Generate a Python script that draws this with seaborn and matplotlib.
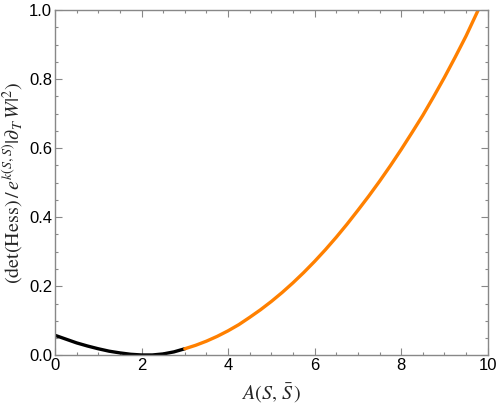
import matplotlib
matplotlib.use("Agg")
import matplotlib.pyplot as plt
import seaborn as sns
import pandas as pd
from matplotlib.ticker import MultipleLocator, FuncFormatter

# Data
black_x = [0.0, 0.25, 0.5, 0.75, 1.0, 1.25, 1.5, 1.75, 2.0, 2.25, 2.5, 2.75, 3.0]
black_y = [0.058, 0.047, 0.036, 0.027, 0.019, 0.012, 0.007, 0.003, 0.001, 0.001, 0.004, 0.010, 0.019]
orange_x = [3.0, 3.25, 3.5, 3.75, 4.0, 4.25, 4.5, 4.75, 5.0, 5.25, 5.5, 5.75, 6.0, 6.25,
            6.5, 6.75, 7.0, 7.25, 7.5, 7.75, 8.0, 8.25, 8.5, 8.75, 9.0, 9.25, 9.5, 9.78]
orange_y = [0.019, 0.029, 0.041, 0.055, 0.071, 0.089, 0.110, 0.132, 0.156, 0.182, 0.210, 0.240,
            0.272, 0.306, 0.342, 0.380, 0.420, 0.461, 0.504, 0.549, 0.596, 0.645, 0.695, 0.749,
            0.805, 0.864, 0.925, 1.0]

sns.set_theme(style="white")
plt.rcParams['font.family'] = ['Liberation Sans', 'DejaVu Sans']
plt.rcParams['mathtext.fontset'] = 'stix'

fig = plt.figure(figsize=(4.98, 4.04), dpi=100)
ax = fig.add_axes([0.1104, 0.1205, 0.9793 - 0.1104, 0.975 - 0.1205])

df_b = pd.DataFrame({"x": black_x, "y": black_y})
df_o = pd.DataFrame({"x": orange_x, "y": orange_y})
sns.lineplot(data=df_b, x="x", y="y", ax=ax, color="black", linewidth=2.4, sort=False)
sns.lineplot(data=df_o, x="x", y="y", ax=ax, color="#ff8000", linewidth=2.4, sort=False)

ax.set_xlim(0, 10)
ax.set_ylim(0, 1)
ax.xaxis.set_major_locator(MultipleLocator(2))
ax.xaxis.set_minor_locator(MultipleLocator(0.5))
ax.yaxis.set_major_locator(MultipleLocator(0.2))
ax.yaxis.set_minor_locator(MultipleLocator(0.05))
ax.xaxis.set_major_formatter(FuncFormatter(lambda v, p: f"{v:.0f}"))
ax.yaxis.set_major_formatter(FuncFormatter(lambda v, p: f"{v:.1f}"))
ax.tick_params(which="both", direction="in", top=True, right=True, bottom=True, left=True,
               color="#888888", width=0.8, labelsize=12, labelcolor="black")
ax.tick_params(which="major", length=5, pad=2)
ax.tick_params(which="minor", length=2.5)
for s in ax.spines.values():
    s.set_color("#888888")
    s.set_linewidth(1.0)

ax.set_xlabel(r"$A(S,\,\bar{S}\,)$", fontsize=14.5)
ax.set_ylabel(r"$(\mathrm{det}(\mathrm{Hess})\,/\,e^{k(S,\bar{S})}|\partial_T\, W|^2)$", fontsize=14.5)
ax.xaxis.set_label_coords(0.5, -0.075)
ax.yaxis.set_label_coords(-0.069, 0.5)

fig.savefig("out.png", dpi=100)
